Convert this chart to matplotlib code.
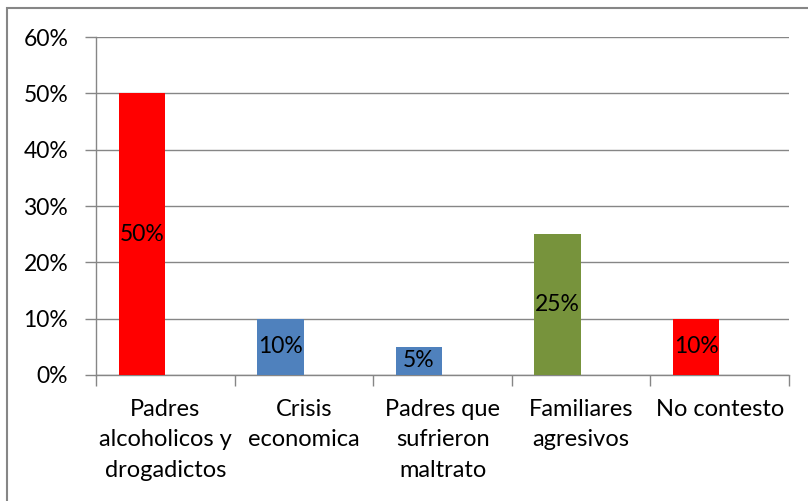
import matplotlib.pyplot as plt
from matplotlib.patches import Rectangle
from matplotlib.ticker import FixedLocator, PercentFormatter

categorias = ["Padres\nalcoholicos y\ndrogadictos", "Crisis\neconomica",
              "Padres que\nsufrieron\nmaltrato", "Familiares\nagresivos", "No contesto"]
valores = [50, 10, 5, 25, 10]
colores = ["#FF0000", "#4F81BD", "#4F81BD", "#77933C", "#FF0000"]
etiquetas = ["50%", "10%", "5%", "25%", "10%"]

plt.rcParams['font.family'] = ['Lato', 'DejaVu Sans']

fig = plt.figure(figsize=(8.08, 5.01), dpi=100)
ax = fig.add_axes([0.1188, 0.2515, 0.8577, 0.6745])

x = list(range(len(valores)))
# barras desplazadas a la izquierda como en Excel (serie vacia a la derecha)
xb = [i - 0.17 for i in x]
bars = ax.bar(xb, valores, width=0.335, color=colores, zorder=3)
for b, txt in zip(bars, etiquetas):
    ax.text(b.get_x() + b.get_width() / 2, b.get_height() / 2, txt,
            ha='center', va='center', fontsize=16.5, color='black', zorder=4)

ax.set_xlim(-0.5, len(valores) - 0.5)
ax.set_ylim(0, 60)
ax.set_yticks(range(0, 61, 10))
ax.yaxis.set_major_formatter(PercentFormatter(decimals=0))
ax.grid(axis='y', color='#868686', linewidth=1, zorder=0)

# categorias
ax.set_xticks(x)
ax.set_xticklabels(categorias, fontsize=17, linespacing=1.58)
ax.tick_params(axis='x', length=0, pad=17)
ax.xaxis.set_minor_locator(FixedLocator([i - 0.5 for i in range(len(valores) + 1)]))
ax.tick_params(axis='x', which='minor', length=8, color='#868686', width=1)
ax.tick_params(axis='y', length=8, color='#868686', width=1, labelsize=16.5, pad=12)

for s in ['top', 'right']:
    ax.spines[s].set_visible(False)
for s in ['left', 'bottom']:
    ax.spines[s].set_color('#868686')
    ax.spines[s].set_linewidth(1)

fig.patches.append(Rectangle((7 / 808, -0.1), 1.2, 1.1 - 8 / 501, transform=fig.transFigure,
                             fill=False, edgecolor='#868686', linewidth=1.5))

plt.savefig("out.png", dpi=100)
